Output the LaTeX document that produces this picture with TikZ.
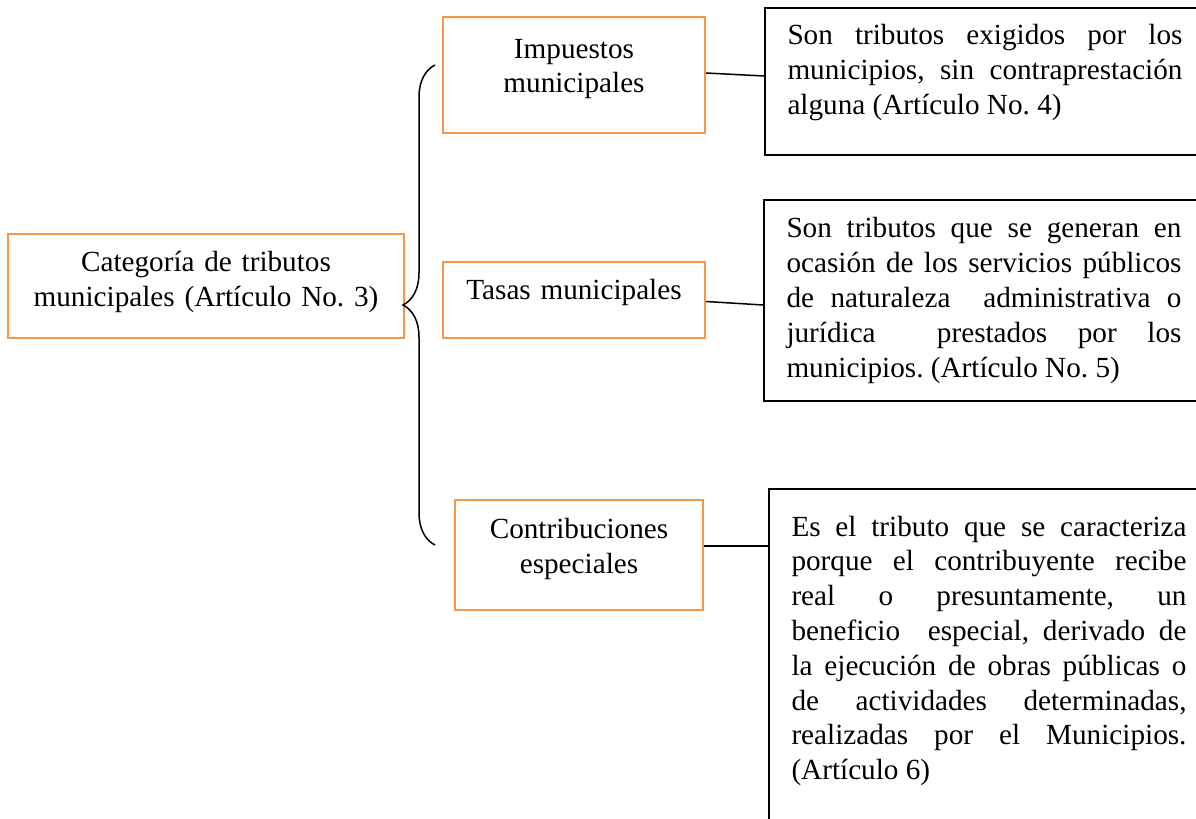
\documentclass[tikz,border=0pt]{standalone}
\usepackage{fontspec}
\setmainfont{Liberation Serif}
\usetikzlibrary{decorations.pathreplacing}
\definecolor{boxorange}{HTML}{F79646}
\hyphenpenalty=10000
\exhyphenpenalty=10000
\frenchspacing
\newcommand{\padbelow}[1]{\par\vspace{#1}\hrule height 0pt}
\begin{document}
\begin{tikzpicture}[x=0.5pt, y=-0.5pt,
    every node/.style={font=\fontsize{14.6}{17.4}\selectfont},
    cat/.style={draw=boxorange, line width=1pt, align=center, inner sep=0pt},
    desc/.style={draw, line width=0.75pt, text width=197.5pt, align=justify,
      inner xsep=10pt, inner ysep=0pt, minimum width=220pt}]
  \clip (0,0) rectangle (1196,819);

  \node[cat, text width=190pt, minimum width=198pt, minimum height=52pt] (cat) at (206,286)
    {Categoría de tributos\\municipales (Artículo No. 3)\padbelow{4pt}};

  \node[cat, text width=120pt, minimum width=131pt, minimum height=58pt] (imp) at (574,75)
    {Impuestos\\municipales\padbelow{6pt}};
  \node[cat, text width=125pt, minimum width=131pt, minimum height=38pt] (tas) at (574,300)
    {Tasas municipales\padbelow{8pt}};
  \node[cat, text width=120pt, minimum width=124pt, minimum height=55pt] (con) at (579,555)
    {Contribuciones\\especiales\padbelow{6pt}};

  \node[desc, minimum height=73.5pt] (dimp) at (985,81.5)
    {Son tributos exigidos por los\linebreak municipios, sin contraprestación\linebreak
     alguna (Artículo No. 4)\padbelow{9pt}};
  \node[desc, minimum height=100.5pt] (dtas) at (984,300.5)
    {Son tributos que se generan en\linebreak ocasión de los servicios públicos\linebreak
     de naturaleza \ administrativa o\linebreak jurídica \ prestados por los\linebreak
     municipios. (Artículo No. 5)};
  \node[desc, anchor=north, inner ysep=13.5pt] (dcon) at (989,488)
    {Es el tributo que se caracteriza\linebreak porque el contribuyente recibe\linebreak
     real o presuntamente, un\linebreak beneficio \ especial, derivado de\linebreak
     la ejecución de obras públicas o\linebreak de actividades determinadas,\linebreak
     realizadas por el Municipios.\linebreak (Artículo 6)\padbelow{80pt}};

  \coordinate (btop) at (435,65);
  \coordinate (bbot) at (435,545);
  \draw[decorate, decoration={brace, amplitude=16pt}, line width=0.75pt] (bbot) -- (btop);

  \draw[line width=0.75pt] ([yshift=1pt]imp.east) -- ([yshift=2.75pt]dimp.west);
  \draw[line width=0.75pt] ([yshift=-0.75pt]tas.east) -- ([yshift=-2.25pt]dtas.west);
  \draw[line width=0.75pt] ([yshift=4.5pt]con.east) -- ([yshift=4.5pt]con.east -| dcon.west);
\end{tikzpicture}
\end{document}
